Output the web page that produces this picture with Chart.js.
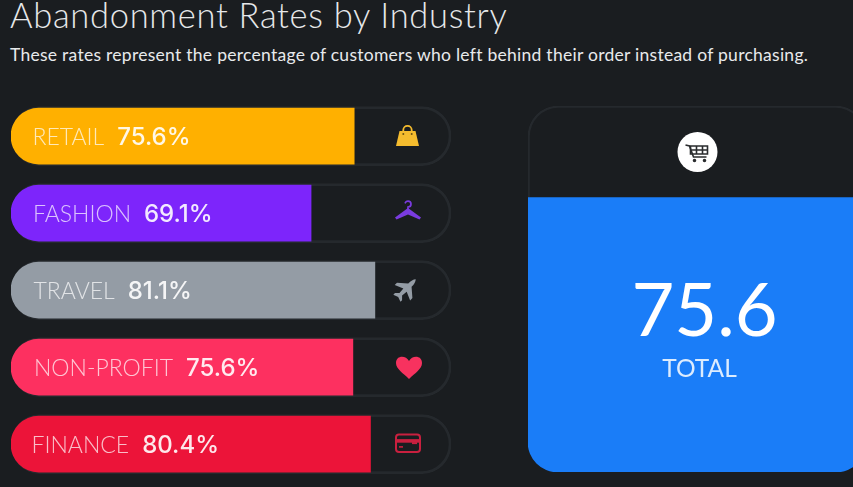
<!DOCTYPE html>
<html>
<head>
<meta charset="utf-8">
<script src="https://cdn.jsdelivr.net/npm/chart.js@4/dist/chart.umd.js"></script>
<style>
html,body{margin:0;padding:0;width:853px;height:487px;overflow:hidden;background:#1a1d20;font-family:Lato,sans-serif;}
#title{position:absolute;left:10px;top:-6px;font-size:34.5px;font-weight:300;color:#e6e8ea;letter-spacing:0.7px;white-space:nowrap;}
#sub{position:absolute;left:10px;top:44px;font-size:17.5px;font-weight:400;color:#e8eaec;white-space:nowrap;letter-spacing:0.27px;}
#bars{position:absolute;left:0;top:0;}
#total{position:absolute;left:527.5px;top:0;}
</style>
</head>
<body>
<div id="title">Abandonment Rates by Industry</div>
<div id="sub">These rates represent the percentage of customers who left behind their order instead of purchasing.</div>
<canvas id="bars" width="853" height="487" style="width:853px;height:487px"></canvas>
<canvas id="total" width="338" height="487" style="width:338px;height:487px"></canvas>
<script>
// Data
const categories = ["RETAIL", "FASHION", "TRAVEL", "NON-PROFIT", "FINANCE"];
const printedRates = [75.6, 69.1, 81.1, 75.6, 80.4];
// Filled share of each track (the drawn lengths differ slightly from the printed rates)
const fillLevels = [78.0, 68.2, 82.7, 77.7, 81.7];
const trackLevels = [100, 100, 100, 100, 100];
const totalValue = "75.6";
const totalLabel = "TOTAL";
const totalFill = [75.0];
const totalTrack = [100];

const colors = ["#FFB000", "#7D25FB", "#949CA5", "#FD3060", "#EC1439"];
const iconColors = ["#F5BC2E", "#7A3BE0", "#949CA5", "#F7325F", "#C9203F"];
const trackBorder = "#25292d";
const fontFam = "Lato, sans-serif";

function drawBag(c, x, y, col) {
  c.fillStyle = col; c.strokeStyle = col; c.lineWidth = 1.8;
  c.beginPath(); c.arc(x, y - 6, 4.2, Math.PI, 0); c.lineTo(x + 4.2, y - 3); c.moveTo(x - 4.2, y - 3); c.lineTo(x - 4.2, y - 6); c.stroke();
  c.beginPath(); c.moveTo(x - 8, y - 5); c.lineTo(x + 8, y - 5); c.lineTo(x + 11.5, y + 10); c.lineTo(x - 11.5, y + 10); c.closePath(); c.fill();
  c.fillStyle = "#6b5215";
  c.beginPath(); c.arc(x - 4.2, y - 2, 1, 0, 7); c.arc(x + 4.2, y - 2, 1, 0, 7); c.fill();
}
function drawHanger(c, x, y, col) {
  c.fillStyle = col;
  c.beginPath(); c.moveTo(x, y - 3); c.lineTo(x + 13, y + 6.5); c.lineTo(x + 11.5, y + 8.5); c.lineTo(x, y + 3.5); c.lineTo(x - 11.5, y + 8.5); c.lineTo(x - 13, y + 6.5); c.closePath(); c.fill();
  c.strokeStyle = col; c.lineWidth = 1.7; c.lineCap = "round";
  c.beginPath(); c.moveTo(x, y - 1); c.lineTo(x, y - 4); c.arc(x, y - 7, 3, Math.PI * 0.5, Math.PI * 1.15, true); c.stroke();
  c.lineCap = "butt";
}
function drawPlane(c, x, y, col) {
  c.save(); c.translate(x, y); c.rotate(Math.PI / 4); c.scale(0.84, 0.92); c.fillStyle = col;
  c.beginPath();
  c.moveTo(0, -15); c.quadraticCurveTo(3, -12, 2.8, -6);
  c.lineTo(13, 2); c.lineTo(13, 5.5); c.lineTo(2.8, 1.5); c.lineTo(2.2, 8);
  c.lineTo(6, 11.5); c.lineTo(6, 14); c.lineTo(0, 12); c.lineTo(-6, 14); c.lineTo(-6, 11.5);
  c.lineTo(-2.2, 8); c.lineTo(-2.8, 1.5); c.lineTo(-13, 5.5); c.lineTo(-13, 2); c.lineTo(-2.8, -6);
  c.quadraticCurveTo(-3, -12, 0, -15); c.closePath(); c.fill();
  c.restore();
}
function drawHeart(c, x, y, col) {
  c.fillStyle = col;
  c.beginPath(); c.moveTo(x, y + 12);
  c.bezierCurveTo(x - 6, y + 6, x - 13, y + 2, x - 13, y - 4);
  c.bezierCurveTo(x - 13, y - 12, x - 3, y - 12, x, y - 6);
  c.bezierCurveTo(x + 3, y - 12, x + 13, y - 12, x + 13, y - 4);
  c.bezierCurveTo(x + 13, y + 2, x + 6, y + 6, x, y + 12);
  c.closePath(); c.fill();
}
function drawCard(c, x, y, col) {
  c.strokeStyle = col; c.fillStyle = col; c.lineWidth = 2;
  c.beginPath(); c.roundRect(x - 12, y - 8.5, 24, 17.5, 3); c.stroke();
  c.fillRect(x - 12, y - 4, 24, 3.6);
  c.fillRect(x - 9, y + 3, 4, 1.6);
  c.fillRect(x + 4, y - 1, 5, 2);
}
const iconDrawers = [drawBag, drawHanger, drawPlane, drawHeart, drawCard];
const iconX = [407.5, 408, 406, 409, 408];
const iconDy = [0, -2, -1, 0, -1];
const labelDx = [21.5, 22, 22.5, 23, 20.5];

const rowPainter = {
  id: "rowPainter",
  afterDatasetsDraw(chart) {
    const c = chart.ctx;
    const meta = chart.getDatasetMeta(0);
    c.save();
    c.textBaseline = "alphabetic";
    categories.forEach((name, i) => {
      const el = meta.data[i];
      const bx = chart.scales.x.getPixelForValue(0) + labelDx[i];
      const by = el.y + 8.5;
      c.font = "300 23px " + fontFam;
      c.fillStyle = "rgba(255,255,255,0.72)";
      c.fillText(name, bx, by);
      const w = c.measureText(name).width;
      c.font = "500 24px Inter, " + fontFam;
      c.fillStyle = "rgba(255,255,255,0.9)";
      c.fillText(printedRates[i] + "%", bx + w + 13, by);
      iconDrawers[i](c, iconX[i], el.y + iconDy[i], iconColors[i]);
    });
    c.restore();
  }
};

new Chart(document.getElementById("bars"), {
  type: "bar",
  data: {
    labels: categories,
    datasets: [
      { data: fillLevels, backgroundColor: colors, barThickness: 56, grouped: false, order: 1,
        borderRadius: { topLeft: 28, bottomLeft: 28, topRight: 0, bottomRight: 0 }, borderSkipped: false },
      { data: trackLevels, backgroundColor: "rgba(0,0,0,0)", borderColor: trackBorder, borderWidth: 2, barThickness: 59, grouped: false, order: 2,
        borderRadius: 29, borderSkipped: false }
    ]
  },
  options: {
    indexAxis: "y", responsive: false, animation: false, devicePixelRatio: 1,
    layout: { padding: { left: 11, right: 402, top: 97.6, bottom: 4.4 } },
    scales: {
      x: { display: false, min: 0, max: 100 },
      y: { display: false, grid: { display: false } }
    },
    plugins: { legend: { display: false }, tooltip: { enabled: false }, title: { display: false } }
  },
  plugins: [rowPainter]
});

const totalPainter = {
  id: "totalPainter",
  afterDatasetsDraw(chart) {
    const c = chart.ctx, cx = 169.5;
    c.save();
    c.fillStyle = "#ffffff";
    c.beginPath(); c.arc(cx, 152, 20, 0, 7); c.fill();
    c.strokeStyle = "#2a2c2e"; c.fillStyle = "#2a2c2e"; c.lineWidth = 1.6;
    c.beginPath(); c.moveTo(cx - 12, 145); c.lineTo(cx - 8, 146); c.lineTo(cx - 4, 157); c.lineTo(cx + 9, 157); c.stroke();
    c.beginPath(); c.rect(cx - 7, 146, 17, 8); c.moveTo(cx - 1, 146); c.lineTo(cx - 1, 154); c.moveTo(cx + 5, 146); c.lineTo(cx + 5, 154); c.moveTo(cx - 6, 150); c.lineTo(cx + 10, 150); c.stroke();
    c.beginPath(); c.arc(cx - 3, 160.5, 1.8, 0, 7); c.arc(cx + 7, 160.5, 1.8, 0, 7); c.fill();
    c.textAlign = "center"; c.textBaseline = "alphabetic";
    c.fillStyle = "#ffffff";
    c.font = "400 74px " + fontFam;
    c.fillText(totalValue, 176.5, 336);
    c.font = "400 24.5px " + fontFam;
    c.fillStyle = "rgba(255,255,255,0.85)";
    c.fillText(totalLabel, 171.5, 377);
    c.restore();
  }
};

new Chart(document.getElementById("total"), {
  type: "bar",
  data: {
    labels: [totalLabel],
    datasets: [
      { data: totalFill, backgroundColor: "#1A7DF8", grouped: false, order: 1, categoryPercentage: 1, barPercentage: 1,
        borderRadius: { topLeft: 0, topRight: 0, bottomLeft: 30, bottomRight: 30 }, borderSkipped: false },
      { data: totalTrack, backgroundColor: "rgba(0,0,0,0)", borderColor: trackBorder, borderWidth: 1.5, grouped: false, order: 2, categoryPercentage: 1, barPercentage: 1,
        borderRadius: 30, borderSkipped: false }
    ]
  },
  options: {
    responsive: false, animation: false, devicePixelRatio: 1,
    layout: { padding: { left: 0, right: 0, top: 106, bottom: 15 } },
    scales: {
      x: { display: false },
      y: { display: false, min: 0, max: 100 }
    },
    plugins: { legend: { display: false }, tooltip: { enabled: false } }
  },
  plugins: [totalPainter]
});
</script>
</body>
</html>
